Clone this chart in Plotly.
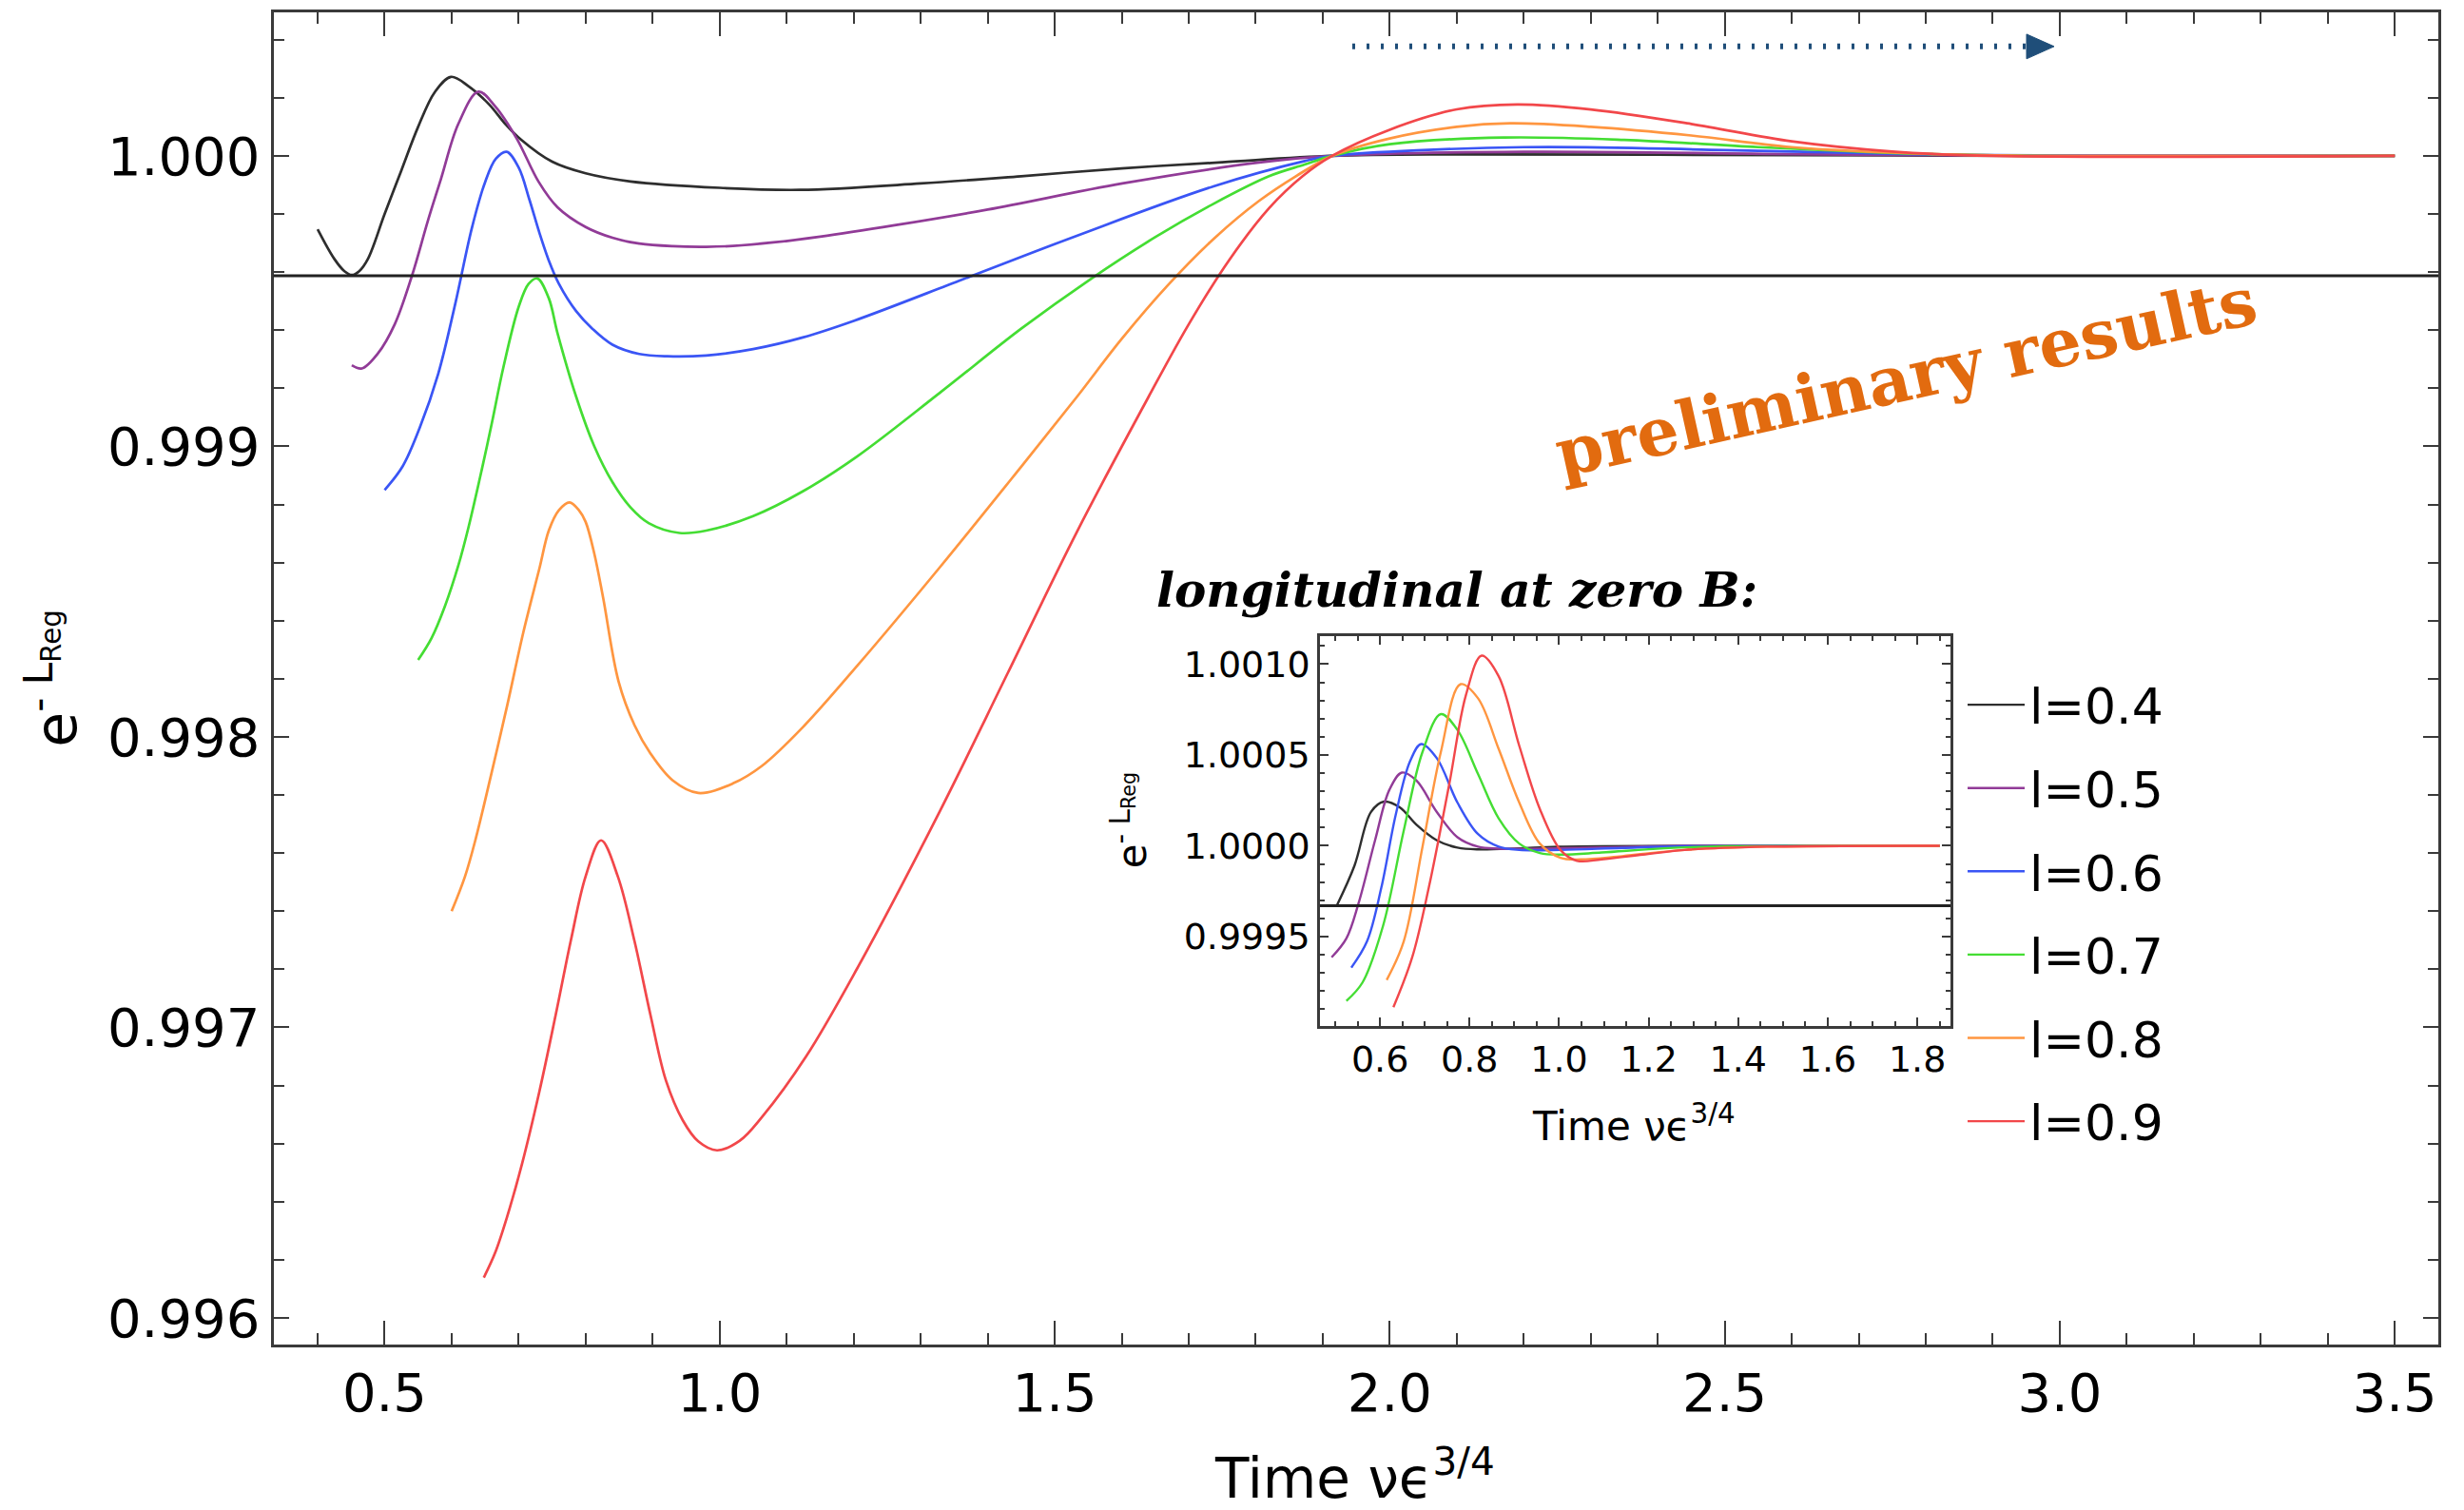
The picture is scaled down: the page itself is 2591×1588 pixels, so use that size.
import plotly.graph_objects as go

# ---------------- data ----------------
LABELS = ["l=0.4", "l=0.5", "l=0.6", "l=0.7", "l=0.8", "l=0.9"]
COLORS = ["#2e2e2e", "#913b97", "#3a55f5", "#44dd33", "#ff9640", "#f2474a"]

# main panel curves
MAIN_X_04 = [0.400, 0.425, 0.440, 0.451, 0.462, 0.475, 0.500, 0.525, 0.550, 0.575, 0.599, 0.625, 0.656,
             0.680, 0.703, 0.750, 0.800, 0.867, 1.000, 1.120, 1.300, 1.450, 1.600, 1.750, 1.914, 2.100,
             2.400, 3.000, 3.500]
MAIN_Y_04 = [0.999747, 0.999645, 0.999603, 0.999590, 0.999603, 0.999645, 0.999800, 0.999950, 1.000100,
             1.000220, 1.000272, 1.000240, 1.000177, 1.000110, 1.000057, 0.999980, 0.999940, 0.999912,
             0.999890, 0.999883, 0.999905, 0.999930, 0.999957, 0.999978, 1.000000, 1.000005, 1.000004,
             1.000000, 1.000000]

MAIN_X_05 = [0.451, 0.466, 0.490, 0.515, 0.541, 0.565, 0.584, 0.610, 0.640, 0.665, 0.697, 0.730, 0.758,
             0.800, 0.840, 0.880, 0.930, 0.980, 1.020, 1.080, 1.150, 1.261, 1.400, 1.601, 1.805, 1.914,
             2.200, 2.600, 3.000, 3.500]
MAIN_Y_05 = [0.999279, 0.999268, 0.999320, 0.999420, 0.999589, 0.999780, 0.999920, 1.000110, 1.000221,
             1.000170, 1.000060, 0.999910, 0.999823, 0.999755, 0.999718, 0.999698, 0.999689, 0.999687,
             0.999690, 0.999702, 0.999722, 0.999761, 0.999815, 0.999905, 0.999977, 1.000000, 1.000014,
             1.000006, 1.000000, 1.000000]

MAIN_X_06 = [0.500, 0.527, 0.552, 0.580, 0.606, 0.630, 0.650, 0.666, 0.682, 0.700, 0.716, 0.731, 0.745,
             0.760, 0.786, 0.810, 0.840, 0.880, 0.922, 0.980, 1.050, 1.124, 1.200, 1.363, 1.533, 1.737,
             1.873, 1.914, 2.200, 2.500, 2.800, 3.100, 3.500]
MAIN_Y_06 = [0.998850, 0.998932, 0.999062, 0.999250, 0.999497, 0.999750, 0.999910, 0.999990, 1.000014,
             0.999960, 0.999850, 0.999735, 0.999640, 0.999560, 0.999465, 0.999405, 0.999350, 0.999318,
             0.999310, 0.999313, 0.999335, 0.999375, 0.999432, 0.999575, 0.999725, 0.999895, 0.999982,
             1.000000, 1.000030, 1.000020, 1.000005, 1.000000, 1.000000]

MAIN_X_07 = [0.550, 0.570, 0.590, 0.610, 0.625, 0.645, 0.660, 0.677, 0.700, 0.715, 0.728, 0.745, 0.758,
             0.786, 0.813, 0.840, 0.867, 0.894, 0.940, 0.980, 1.050, 1.124, 1.205, 1.329, 1.450, 1.553,
             1.650, 1.737, 1.820, 1.873, 1.914, 2.000, 2.170, 2.350, 2.550, 2.750, 2.950, 3.500]
MAIN_Y_07 = [0.998265, 0.998340, 0.998450, 0.998590, 0.998720, 0.998920, 0.999080, 0.999270, 0.999480,
             0.999560, 0.999578, 0.999510, 0.999390, 0.999170, 0.999000, 0.998877, 0.998790, 0.998736,
             0.998702, 0.998710, 0.998760, 0.998845, 0.998965, 0.999185, 0.999405, 0.999575, 0.999720,
             0.999835, 0.999930, 0.999970, 1.000000, 1.000040, 1.000063, 1.000055, 1.000030, 1.000010,
             1.000000, 1.000000]

MAIN_X_08 = [0.600, 0.620, 0.636, 0.660, 0.683, 0.707, 0.731, 0.745, 0.760, 0.776, 0.790, 0.800, 0.813,
             0.826, 0.849, 0.873, 0.897, 0.930, 0.968, 1.020, 1.063, 1.124, 1.205, 1.329, 1.450, 1.533,
             1.600, 1.669, 1.740, 1.805, 1.860, 1.914, 2.000, 2.100, 2.180, 2.300, 2.450, 2.600, 2.800,
             3.000, 3.500]
MAIN_Y_08 = [0.997400, 0.997520, 0.997650, 0.997880, 0.998109, 0.998360, 0.998580, 0.998710, 0.998780,
             0.998807, 0.998780, 0.998740, 0.998630, 0.998480, 0.998192, 0.998040, 0.997942, 0.997850,
             0.997807, 0.997840, 0.997900, 0.998033, 0.998244, 0.998585, 0.998930, 0.999170, 0.999370,
             0.999555, 0.999720, 0.999845, 0.999930, 1.000000, 1.000060, 1.000100, 1.000112, 1.000100,
             1.000070, 1.000030, 1.000007, 1.000000, 1.000000]

MAIN_X_09 = [0.648, 0.665, 0.683, 0.705, 0.731, 0.755, 0.778, 0.800, 0.823, 0.848, 0.873, 0.897, 0.920,
             0.945, 0.968, 0.996, 1.030, 1.063, 1.129, 1.205, 1.329, 1.430, 1.533, 1.640, 1.700, 1.760,
             1.820, 1.870, 1.914, 2.000, 2.100, 2.190, 2.300, 2.450, 2.600, 2.750, 2.900, 3.500]
MAIN_Y_09 = [0.996139, 0.996225, 0.996350, 0.996530, 0.996780, 0.997040, 0.997300, 0.997520, 0.997644,
             0.997520, 0.997296, 0.997040, 0.996816, 0.996680, 0.996608, 0.996577, 0.996610, 0.996691,
             0.996900, 0.997202, 0.997746, 0.998220, 0.998705, 0.999170, 0.999420, 0.999640, 0.999820,
             0.999930, 1.000000, 1.000090, 1.000160, 1.000177, 1.000160, 1.000110, 1.000050, 1.000015,
             1.000000, 1.000000]

# inset panel (longitudinal at zero B) curves
INSET_X_04 = [0.504, 0.543, 0.580, 0.609, 0.644, 0.681, 0.727, 0.773, 0.819, 0.911, 1.000, 1.850]
INSET_Y_04 = [0.999673, 0.999890, 1.000186, 1.000243, 1.000212, 1.000117, 1.000030, 0.999990, 0.999980,
              0.999986, 0.999995, 1.000000]

INSET_X_05 = [0.492, 0.525, 0.552, 0.589, 0.621, 0.649, 0.681, 0.727, 0.773, 0.819, 0.865, 0.957, 1.095,
              1.280, 1.850]
INSET_Y_05 = [0.999386, 0.999490, 0.999682, 1.000030, 1.000308, 1.000403, 1.000360, 1.000186, 1.000047,
              0.999995, 0.999984, 0.999984, 0.999991, 1.000000, 1.000000]

INSET_X_06 = [0.536, 0.571, 0.603, 0.635, 0.667, 0.692, 0.727, 0.773, 0.819, 0.865, 0.911, 1.003, 1.141,
              1.280, 1.850]
INSET_Y_06 = [0.999329, 0.999473, 0.999769, 1.000169, 1.000464, 1.000560, 1.000482, 1.000238, 1.000064,
              0.999995, 0.999977, 0.999977, 0.999988, 0.999997, 1.000000]

INSET_X_07 = [0.525, 0.561, 0.607, 0.653, 0.695, 0.736, 0.773, 0.819, 0.865, 0.911, 0.957, 1.003, 1.095,
              1.234, 1.372, 1.850]
INSET_Y_07 = [0.999146, 0.999247, 0.999560, 1.000082, 1.000517, 1.000725, 1.000638, 1.000395, 1.000151,
              1.000012, 0.999960, 0.999951, 0.999963, 0.999986, 0.999997, 1.000000]

INSET_X_08 = [0.615, 0.653, 0.695, 0.736, 0.780, 0.819, 0.865, 0.911, 0.957, 1.003, 1.049, 1.141, 1.280,
              1.464, 1.850]
INSET_Y_08 = [0.999261, 0.999473, 0.999995, 1.000517, 1.000890, 1.000812, 1.000534, 1.000238, 1.000012,
              0.999934, 0.999925, 0.999943, 0.999977, 0.999995, 1.000000]

INSET_X_09 = [0.630, 0.672, 0.709, 0.755, 0.792, 0.827, 0.865, 0.911, 0.957, 1.003, 1.040, 1.095, 1.187,
              1.280, 1.464, 1.850]
INSET_Y_09 = [0.999111, 0.999386, 0.999769, 1.000343, 1.000830, 1.001047, 1.000934, 1.000551, 1.000203,
              0.999977, 0.999917, 0.999925, 0.999951, 0.999977, 0.999995, 1.000000]

# level of the horizontal axis line drawn across each panel
AXIS_LEVEL_MAIN = 0.999587
AXIS_LEVEL_INSET = 0.99967

MAIN_SERIES = [(MAIN_X_04, MAIN_Y_04), (MAIN_X_05, MAIN_Y_05), (MAIN_X_06, MAIN_Y_06),
               (MAIN_X_07, MAIN_Y_07), (MAIN_X_08, MAIN_Y_08), (MAIN_X_09, MAIN_Y_09)]
INSET_SERIES = [(INSET_X_04, INSET_Y_04), (INSET_X_05, INSET_Y_05), (INSET_X_06, INSET_Y_06),
                (INSET_X_07, INSET_Y_07), (INSET_X_08, INSET_Y_08), (INSET_X_09, INSET_Y_09)]

# ---------------- figure ----------------
OFF = 8                     # default page margin of the html body
W, H = 2591 - 2 * OFF, 1588 - 2 * OFF
FONT = "DejaVu Sans"
fig = go.Figure()

for (xs, ys), col, lab in zip(MAIN_SERIES, COLORS, LABELS):
    fig.add_trace(go.Scatter(x=xs, y=ys, mode="lines",
                             line=dict(color=col, width=2.7, shape="spline", smoothing=1.0),
                             xaxis="x", yaxis="y", showlegend=False, name=lab, hoverinfo="skip"))

for i, ((xs, ys), col, lab) in enumerate(zip(INSET_SERIES, COLORS, LABELS)):
    fig.add_trace(go.Scatter(x=xs, y=ys, mode="lines",
                             line=dict(color=col, width=2.4, shape="spline", smoothing=1.0),
                             xaxis="x2", yaxis="y2", showlegend=True, name=lab, legendgroup=f"g{i}",
                             hoverinfo="skip"))


def px_x(p):
    """page pixel column -> paper fraction"""
    return (p - OFF) / W


def px_y(p):
    """page pixel row -> paper fraction"""
    return 1 - (p - OFF) / H


AX_COL = "#3a3a3a"
common = dict(showgrid=False, zeroline=False, showline=True, linecolor=AX_COL, mirror="ticks",
              ticks="inside", tickcolor=AX_COL)

fig.update_layout(
    width=W, height=H, margin=dict(l=0, r=0, t=0, b=0, pad=0),
    paper_bgcolor="white", plot_bgcolor="white",
    xaxis=dict(domain=[px_x(287.5), px_x(2564)], range=[0.334, 3.565], anchor="y",
               tick0=0, dtick=0.5, tickformat=".1f", ticklen=25, tickwidth=2, linewidth=3,
               minor=dict(dtick=0.1, ticks="inside", ticklen=12, tickwidth=2, tickcolor=AX_COL),
               tickfont=dict(family=FONT, size=56, color="black"), **common),
    yaxis=dict(domain=[px_y(1418), px_y(13)], range=[0.99591, 1.000494], anchor="x",
               tick0=1.0, dtick=0.001, tickformat=".3f", ticklen=16, tickwidth=2, linewidth=3,
               minor=dict(dtick=0.0002, ticks="inside", ticklen=11, tickwidth=2, tickcolor=AX_COL),
               tickfont=dict(family=FONT, size=56, color="black"), **common),
    xaxis2=dict(domain=[px_x(1388), px_x(2051)], range=[0.466, 1.874], anchor="y2",
                tick0=0, dtick=0.2, tickformat=".1f", ticklen=9, tickwidth=1.5, linewidth=2.5,
                minor=dict(dtick=0.05, ticks="inside", ticklen=5, tickwidth=1.5, tickcolor=AX_COL),
                tickfont=dict(family=FONT, size=38, color="black"), **common),
    yaxis2=dict(domain=[px_y(1082.5), px_y(671)], range=[0.999007, 1.001155], anchor="x2",
                tick0=1.0, dtick=0.0005, tickformat=".4f", ticklen=9, tickwidth=1.5, linewidth=2.5,
                minor=dict(dtick=0.0001, ticks="inside", ticklen=5, tickwidth=1.5, tickcolor=AX_COL),
                tickfont=dict(family=FONT, size=38, color="black"), **common),
    showlegend=True,
    legend=dict(x=px_x(2064), y=px_y(703), xanchor="left", yanchor="top", bgcolor="rgba(0,0,0,0)",
                font=dict(family=FONT, size=52, color="black"), traceorder="grouped",
                tracegroupgap=17, itemwidth=60),
)

# horizontal axis lines through each panel
fig.add_shape(type="line", xref="x domain", x0=0, x1=1, yref="y", y0=AXIS_LEVEL_MAIN, y1=AXIS_LEVEL_MAIN,
              line=dict(color="#222222", width=3))
fig.add_shape(type="line", xref="x2 domain", x0=0, x1=1, yref="y2", y0=AXIS_LEVEL_INSET, y1=AXIS_LEVEL_INSET,
              line=dict(color="#222222", width=3))

# dotted arrow at the top
ARROW_BLUE = "#1f4e79"
fig.add_shape(type="line", xref="paper", yref="paper", x0=px_x(1422), x1=px_x(2132), y0=px_y(49), y1=px_y(49),
              line=dict(color=ARROW_BLUE, width=6, dash="3px,12px"))
fig.add_shape(type="path", xref="paper", yref="paper",
              path=f"M {px_x(2131)} {px_y(36)} L {px_x(2160)} {px_y(49)} L {px_x(2131)} {px_y(62)} Z",
              fillcolor=ARROW_BLUE, line=dict(color=ARROW_BLUE, width=1))

# texts
fig.add_annotation(xref="paper", yref="paper", x=px_x(1425), y=px_y(1556), showarrow=False,
                   text="Time νϵ<sup>3/4</sup>", font=dict(family=FONT, size=58, color="black"),
                   xanchor="center", yanchor="middle")
fig.add_annotation(xref="paper", yref="paper", x=px_x(55), y=px_y(716), showarrow=False, textangle=-90,
                   text="e<sup>- L<sub>Reg</sub></sup>", font=dict(family=FONT, size=60, color="black"),
                   xanchor="center", yanchor="middle")
fig.add_annotation(xref="paper", yref="paper", x=px_x(1718), y=px_y(1185), showarrow=False,
                   text="Time νϵ<sup>3/4</sup>", font=dict(family=FONT, size=42, color="black"),
                   xanchor="center", yanchor="middle")
fig.add_annotation(xref="paper", yref="paper", x=px_x(1188), y=px_y(866), showarrow=False, textangle=-90,
                   text="e<sup>- L<sub>Reg</sub></sup>", font=dict(family=FONT, size=42, color="black"),
                   xanchor="center", yanchor="middle")
fig.add_annotation(xref="paper", yref="paper", x=px_x(1532), y=px_y(622), showarrow=False,
                   text="<b><i>longitudinal at zero B:</i></b>",
                   font=dict(family="DejaVu Serif", size=50, color="black"),
                   xanchor="center", yanchor="middle")
fig.add_annotation(xref="paper", yref="paper", x=px_x(2004), y=px_y(398), showarrow=False, textangle=-12.5,
                   text="<b>preliminary results</b>", font=dict(family="DejaVu Serif", size=70, color="#e26b0f"),
                   xanchor="center", yanchor="middle")

fig.write_html("out.html")
